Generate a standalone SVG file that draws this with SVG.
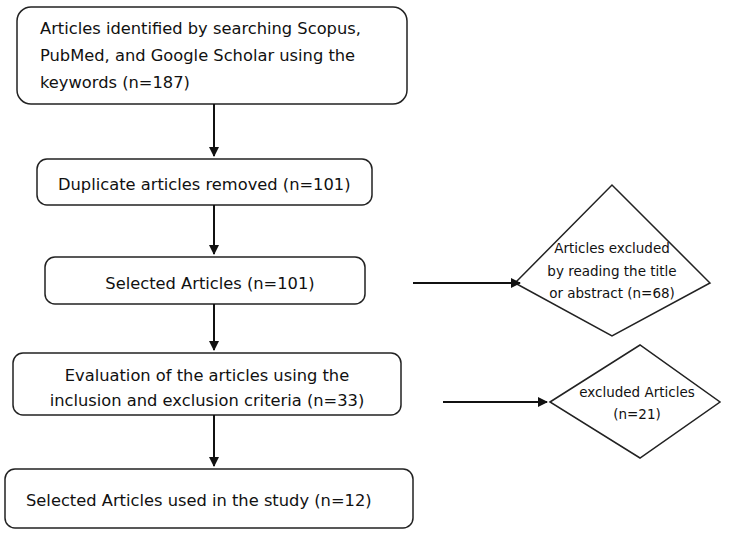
<svg xmlns="http://www.w3.org/2000/svg" width="751" height="537" viewBox="0 0 751 537">
<style>
.b{fill:#fff;stroke:#222;stroke-width:1.5}
.t{font-family:"DejaVu Sans",sans-serif;font-size:16.3px;fill:#111}
.d{font-size:13.5px}
.c{stroke:#111;stroke-width:2;fill:none;marker-end:url(#a)}
</style>
<defs><marker id="a" viewBox="0 0 10 10" refX="9" refY="5" markerWidth="5" markerHeight="5" orient="auto"><path d="M0,0L10,5L0,10z" fill="#111"/></marker></defs>
<rect width="751" height="537" fill="#fff"/>
<g id="n1"><rect class="b" x="17" y="7" width="390" height="97" rx="14"/>
<text class="t" x="40" y="34">Articles identified by searching Scopus,</text>
<text class="t" x="40" y="61">PubMed, and Google Scholar using the</text>
<text class="t" x="40" y="88">keywords (n=187)</text></g>
<g id="n2"><rect class="b" x="37" y="159" width="335" height="46" rx="10"/>
<text class="t" x="58" y="190">Duplicate articles removed (n=101)</text></g>
<g id="n3"><rect class="b" x="45" y="257" width="320" height="47" rx="10"/>
<text class="t" x="210" y="289" text-anchor="middle">Selected Articles (n=101)</text></g>
<g id="n4"><path class="b" d="M515,283L612,185L710,283L612,336Z"/>
<text class="t d" x="612" y="253" text-anchor="middle">Articles excluded</text>
<text class="t d" x="612" y="276" text-anchor="middle">by reading the title</text>
<text class="t d" x="612" y="298" text-anchor="middle">or abstract (n=68)</text></g>
<g id="n5"><rect class="b" x="13" y="353" width="388" height="62" rx="10"/>
<text class="t" x="207" y="381" text-anchor="middle">Evaluation of the articles using the</text>
<text class="t" x="207" y="406" text-anchor="middle">inclusion and exclusion criteria (n=33)</text></g>
<g id="n6"><path class="b" d="M550,402L640,345L720,402L640,458Z"/>
<text class="t d" x="637" y="397" text-anchor="middle">excluded Articles</text>
<text class="t d" x="637" y="419" text-anchor="middle">(n=21)</text></g>
<g id="n7"><rect class="b" x="5" y="469" width="408" height="59" rx="10"/>
<text class="t" x="26" y="506">Selected Articles used in the study (n=12)</text></g>
<g id="connectors">
<line class="c" x1="214" y1="104" x2="214" y2="156"/>
<line class="c" x1="214" y1="205" x2="214" y2="254"/>
<line class="c" x1="413" y1="283" x2="520" y2="283"/>
<line class="c" x1="214" y1="304" x2="214" y2="350"/>
<line class="c" x1="443" y1="402" x2="547" y2="402"/>
<line class="c" x1="214" y1="415" x2="214" y2="466"/>
</g>
</svg>
